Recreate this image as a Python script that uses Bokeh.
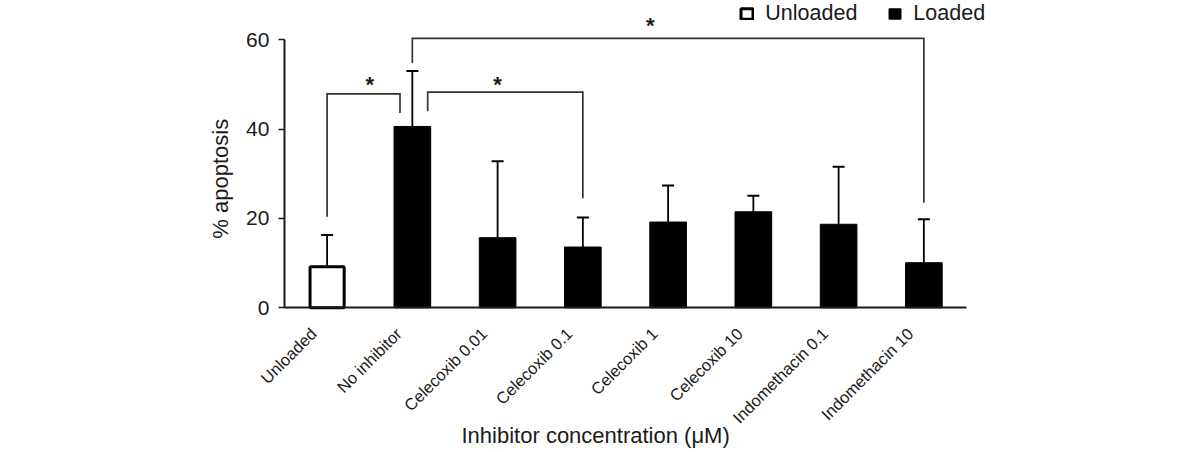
import math
from bokeh.plotting import figure
from bokeh.models import (Range1d, FixedTicker, ColumnDataSource, Whisker,
                          TeeHead, Legend, LegendItem, Label)
from bokeh.core.properties import value
from bokeh.embed import file_html
from bokeh.resources import INLINE

# ---- data ----
categories = ["Unloaded", "No inhibitor", "Celecoxib 0.01", "Celecoxib 0.1",
              "Celecoxib 1", "Celecoxib 10", "Indomethacin 0.1", "Indomethacin 10"]
apoptosis = [9.2, 40.6, 15.7, 13.6, 19.2, 21.5, 18.7, 10.1]
sd = [7.1, 12.4, 17.1, 6.6, 8.2, 3.6, 12.9, 9.7]
y_ticks = [0, 20, 40, 60]

# significance brackets
sig_from = ["Unloaded", "No inhibitor", "No inhibitor"]
sig_to = ["No inhibitor", "Celecoxib 0.1", "Indomethacin 10"]
sig_top = [47.9, 48.3, 60.3]
sig_from_low = [20.4, 44.0, 54.8]
sig_to_low = [43.6, 24.5, 23.5]
sig_label = ["*", "*", "*"]

# ---- layout / style helpers ----
from_shift = [0.0, 0.18, 0.0]
to_shift = [-0.145, 0.0, 0.0]
star_cat = ["Unloaded", "Celecoxib 0.01", "Celecoxib 1"]
star_shift = [0.5, 0.0, -0.21]
star_base = [50.0, 50.1, 63.3]
label_shift = -0.16

FONT = "Liberation Sans"
INK = "#1a1a1a"

pos = {c: i for i, c in enumerate(categories)}
idx = [pos[c] for c in categories]

p = figure(width=1200, height=452,
           x_range=Range1d(-3.831, 10.245),
           y_range=Range1d(-32.4, 68.8),
           output_backend="svg", toolbar_location=None, min_border=0)
p.outline_line_color = None
p.grid.visible = False
p.background_fill_color = "white"
p.border_fill_color = "white"

upper = [a + s for a, s in zip(apoptosis, sd)]
src_unl = ColumnDataSource(dict(x=idx[:1], top=apoptosis[:1], upper=upper[:1]))
src_load = ColumnDataSource(dict(x=idx[1:], top=apoptosis[1:], upper=upper[1:]))
src_all = ColumnDataSource(dict(x=idx, top=apoptosis, upper=upper))

r_unl = p.vbar(x="x", top="top", width=0.4, bottom=0, source=src_unl,
               fill_color="white", line_color="black", line_width=3)
r_load = p.vbar(x="x", top="top", width=0.43, bottom=0, source=src_load,
                fill_color="black", line_color="black", line_width=1)

wh = Whisker(base="x", upper="upper", lower="top", source=src_all,
             line_color="black", line_width=1.8, lower_head=None,
             upper_head=TeeHead(size=12, line_color="black", line_width=2))
p.add_layout(wh)

# brackets
xs, ys = [], []
for f, t, top, fl, tl, fs, ts in zip(sig_from, sig_to, sig_top, sig_from_low,
                                     sig_to_low, from_shift, to_shift):
    xs.append([pos[f] + fs, pos[f] + fs, pos[t] + ts, pos[t] + ts])
    ys.append([fl, top, top, tl])
p.multi_line(xs=xs, ys=ys, line_color="#333333", line_width=1.7, line_join="miter")

p.text(x=[pos[c] + s for c, s in zip(star_cat, star_shift)], y=star_base, text=sig_label,
       text_font=value(FONT), text_font_size="22px", text_font_style="bold",
       text_align="center", text_baseline="alphabetic", text_color=INK)

# axes
xa = p.xaxis[0]
xa.fixed_location = 0
xa.bounds = (-0.5, len(categories) - 0.5)
tick_pos = [i + label_shift for i in idx]
xa.ticker = FixedTicker(ticks=tick_pos)
xa.major_label_overrides = {t: c for t, c in zip(tick_pos, categories)}
xa.major_tick_line_color = None
xa.minor_tick_line_color = None
xa.axis_line_width = 2
xa.axis_line_color = INK
xa.major_label_orientation = math.pi / 4
xa.major_label_text_font = FONT
xa.major_label_text_font_size = "16.5px"
xa.major_label_text_color = INK
xa.major_label_standoff = 17

ya = p.yaxis[0]
ya.fixed_location = -0.5
ya.ticker = FixedTicker(ticks=y_ticks)
ya.bounds = (0, 60)
ya.minor_tick_line_color = None
ya.major_tick_out = 6
ya.major_tick_in = 0
ya.major_tick_line_width = 1.5
ya.major_tick_line_color = INK
ya.axis_line_width = 2
ya.axis_line_color = INK
ya.major_label_text_font = FONT
ya.major_label_text_font_size = "21px"
ya.major_label_text_color = INK
ya.major_label_standoff = 9

# axis titles
p.add_layout(Label(x=461, y=17, x_units="screen", y_units="screen",
                   text="Inhibitor concentration (\u03bcM)", text_align="left",
                   text_baseline="alphabetic", text_font=FONT, text_font_size="22px",
                   text_color=INK))
p.add_layout(Label(x=219.5, y=273.7, x_units="screen", y_units="screen",
                   angle=math.pi / 2, text="% apoptosis", text_align="center",
                   text_baseline="alphabetic", text_font=FONT, text_font_size="22px",
                   text_color=INK))

legend = Legend(items=[LegendItem(label="Unloaded", renderers=[r_unl]),
                       LegendItem(label="Loaded", renderers=[r_load])],
                orientation="horizontal", location=(739.3, 426.4),
                padding=0, margin=0, spacing=30, label_standoff=11,
                glyph_width=15, glyph_height=13, label_height=20,
                label_text_font=FONT, label_text_font_size="21.5px",
                label_text_color=INK,
                border_line_color=None, background_fill_alpha=0)
p.add_layout(legend)

open("out.html", "w").write(file_html(p, INLINE))
